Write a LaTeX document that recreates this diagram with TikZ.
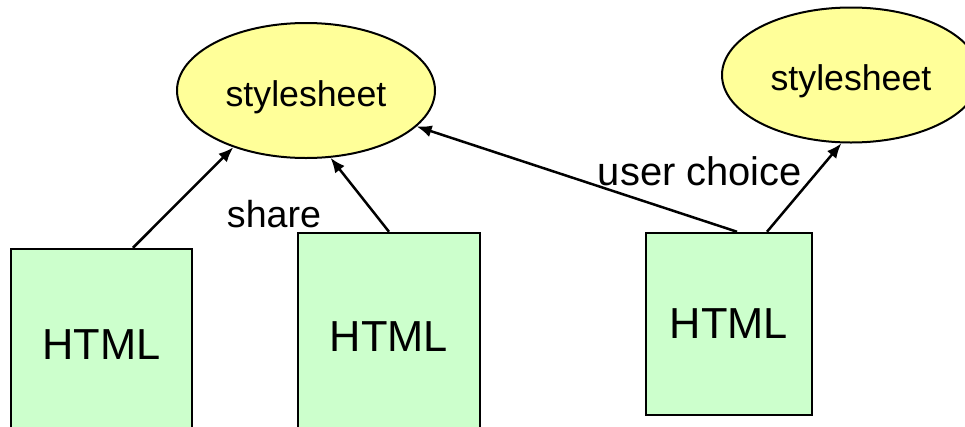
\documentclass[tikz,border=0pt]{standalone}
\usepackage{fontspec}
\setmainfont{Liberation Sans}
\usetikzlibrary{shapes.geometric,arrows.meta,calc}
\definecolor{sheetyellow}{HTML}{FFFF99}
\definecolor{htmlgreen}{HTML}{CCFFCC}
\begin{document}
\begin{tikzpicture}
  [x=1pt,y=-1pt,
   sheet/.style={ellipse,draw,line width=2pt,fill=sheetyellow,inner sep=0pt,
     minimum width=258pt,minimum height=135pt,
     font=\fontsize{35.7}{40}\selectfont,text height=39pt,text depth=7.5pt},
   page/.style={draw,line width=2.5pt,fill=htmlgreen,inner sep=0pt,
     font=\fontsize{43.4}{50}\selectfont},
   link/.style={line width=2.5pt,-{Latex[length=15pt,width=12pt]}},
   note/.style={inner sep=0pt}]
  \useasboundingbox (0,0) rectangle (965,426);
  \node[sheet] (s1) at (306,90.5) {stylesheet};
  \node[sheet] (s2) at (851,75) {stylesheet};

  \node[page,minimum width=181pt,minimum height=192pt] (h1) at (101.5,345) {HTML};
  \node[page,minimum width=182pt,minimum height=208pt] (h2) at (389,337) {HTML};
  \node[page,minimum width=166pt,minimum height=182pt] (h3) at (729,324) {HTML};

  \node[note,font=\fontsize{37.6}{42}\selectfont] (share) at (274,214) {share};
  \node[note,font=\fontsize{39.9}{44}\selectfont] (choice) at (700,171) {user choice};

  \draw[link] ($(h1.north)+(31.5,0)$) -- (s1.218);
  \draw[link] (h2.north) -- (s1.290);
  \draw[link] ($(h3.north)+(8,0)$) -- (s1.342);
  \draw[link] ($(h3.north)+(38,0)$) -- (s2.262);

\end{tikzpicture}
\end{document}
